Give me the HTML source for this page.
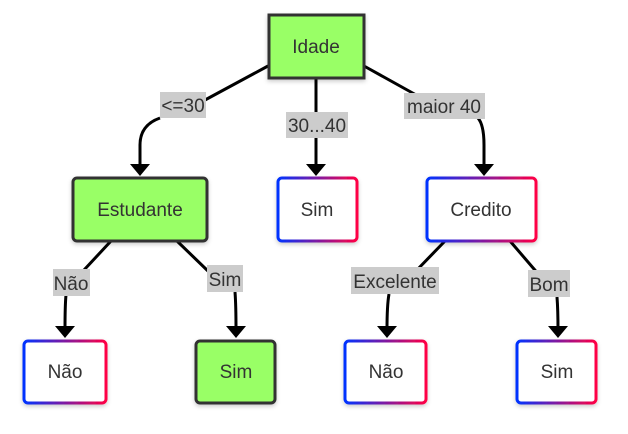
<!DOCTYPE html>
<html><head><style>body{margin:0;background:#fff}svg{display:block}text{font-family:"Liberation Sans",Arial,sans-serif;fill:#333}</style></head>
<body>
<svg width="628" height="434" viewBox="0 0 628 434">
<defs>
<linearGradient id="g" x1="0" x2="1" y1="0" y2="0"><stop offset="0" stop-color="#0033ff"/><stop offset="1" stop-color="#ff0044"/></linearGradient>
<marker id="a" markerWidth="10" markerHeight="10" refX="5" refY="5" orient="auto" markerUnits="userSpaceOnUse"><path d="M0,0 L10,5 L0,10z" fill="#000"/></marker>
<filter id="s" x="-20%" y="-20%" width="140%" height="150%"><feDropShadow dx="0" dy="2" stdDeviation="2" flood-opacity="0.2"/></filter>
</defs>
<g stroke="#000" stroke-width="3" fill="none">
<path d="M268,66 L205,100 M160,118 Q140,125 140,145 L140,168"/>
<path d="M316,78 L316,113 M316,137 L316,168"/>
<path d="M364,66 L418,96 M478,118 Q484,125 484,145 L484,168"/>
<path d="M111,241 L84,270 M66,295 Q65,305 65,330"/>
<path d="M177,241 L209,272 M235,292 Q236,305 236,330"/>
<path d="M445,241 L415,272 M389,294 Q387,305 387,330"/>
<path d="M510,241 L540,276 M557,297 Q558,310 558,330"/>
</g>
<g fill="#000">
<path d="M130,164 L150,164 L140,176z"/>
<path d="M306,164 L326,164 L316,176z"/>
<path d="M474,164 L494,164 L484,176z"/>
<path d="M55,326 L75,326 L65,338z"/>
<path d="M226,326 L246,326 L236,338z"/>
<path d="M377,326 L397,326 L387,338z"/>
<path d="M548,326 L568,326 L558,338z"/>
</g>
<g fill="#ccc">
<rect x="160" y="92" width="46" height="26"/>
<rect x="286" y="112" width="62" height="26"/>
<rect x="404" y="93" width="81" height="26"/>
<rect x="53" y="269" width="37" height="27"/>
<rect x="207" y="265" width="36" height="27"/>
<rect x="351" y="267" width="88" height="27"/>
<rect x="528" y="270" width="42" height="27"/>
</g>
<g font-size="19" text-anchor="middle">
<text x="183" y="112">&lt;=30</text>
<text x="317" y="132">30...40</text>
<text x="444" y="113">maior 40</text>
<text x="71" y="290">Não</text>
<text x="225" y="286">Sim</text>
<text x="395" y="288">Excelente</text>
<text x="549" y="291">Bom</text>
</g>
<g filter="url(#s)">
<rect x="269" y="15" width="95" height="63" fill="#99ff66" stroke="#333" stroke-width="3"/>
<rect x="73" y="178" width="134" height="63" rx="4" fill="#99ff66" stroke="#333" stroke-width="3"/>
<rect x="196" y="341" width="79" height="62" rx="4" fill="#99ff66" stroke="#333" stroke-width="3"/>
<rect x="278" y="178" width="79" height="63" rx="4" fill="#fff" stroke="url(#g)" stroke-width="3"/>
<rect x="427" y="178" width="109" height="63" rx="4" fill="#fff" stroke="url(#g)" stroke-width="3"/>
<rect x="24" y="341" width="82" height="62" rx="4" fill="#fff" stroke="url(#g)" stroke-width="3"/>
<rect x="345" y="341" width="81" height="62" rx="4" fill="#fff" stroke="url(#g)" stroke-width="3"/>
<rect x="517" y="341" width="79" height="62" rx="4" fill="#fff" stroke="url(#g)" stroke-width="3"/>
</g>
<g font-size="19" text-anchor="middle">
<text x="316" y="53">Idade</text>
<text x="140" y="216">Estudante</text>
<text x="317" y="216">Sim</text>
<text x="481" y="216">Credito</text>
<text x="65" y="378">Não</text>
<text x="236" y="378">Sim</text>
<text x="386" y="378">Não</text>
<text x="557" y="378">Sim</text>
</g>
</svg>
</body></html>
